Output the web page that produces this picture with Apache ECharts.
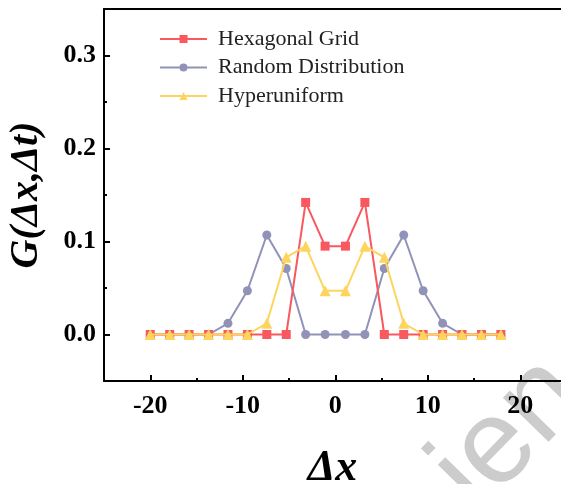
<!DOCTYPE html>
<html>
<head>
<meta charset="utf-8">
<script src="https://cdn.jsdelivr.net/npm/echarts@6/dist/echarts.min.js"></script>
<style>html,body{margin:0;padding:0;background:#fff}#c{width:561px;height:484px}</style>
</head>
<body>
<div id="c"></div>
<script>
const xValues = [-20, -17.9, -15.8, -13.7, -11.6, -9.5, -7.4, -5.3, -3.2, -1.1, 1.1, 3.2, 5.3, 7.4, 9.5, 11.6, 13.7, 15.8, 17.9];
const hexagonal = [0, 0, 0, 0, 0, 0, 0, 0, 0.142, 0.095, 0.095, 0.142, 0, 0, 0, 0, 0, 0, 0];
const randomDist = [0, 0, 0, 0, 0.012, 0.047, 0.107, 0.071, 0, 0, 0, 0, 0.071, 0.107, 0.047, 0.012, 0, 0, 0];
const hyperuniform = [0, 0, 0, 0, 0, 0, 0.012, 0.083, 0.095, 0.047, 0.047, 0.095, 0.083, 0.012, 0, 0, 0, 0, 0];
const xMajorTicks = [-20, -10, 0, 10, 20];
const xMinorTicks = [-15, -5, 5, 15];
const yMajorTicks = [0, 0.1, 0.2, 0.3];
const yMinorTicks = [0.05, 0.15, 0.25];
const seriesNames = ['Hexagonal Grid', 'Random Distribution', 'Hyperuniform'];

const pair = (ys) => xValues.map((x, i) => [x, ys[i]]);
const FONT = 'Liberation Serif';
const X_MIN = -25, X_MAX = 24.4, Y_MIN = -0.05, Y_MAX = 0.35;
const chart = echarts.init(document.getElementById('c'));
chart.setOption({
  animation: false,
  backgroundColor: '#fff',
  grid: { left: 104, top: 9, right: 0, bottom: 103, outerBoundsMode: 'none', containLabel: false },
  graphic: {
    elements: [{
      type: 'text', x: 411, y: 450, rotation: 0.8, z: -10, silent: true,
      style: { text: 'ien', font: 'normal 120px "Liberation Sans"', fill: '#cccccc' }
    }]
  },
  legend: {
    data: seriesNames, orient: 'vertical', left: 159, top: 28, padding: 0,
    itemWidth: 47, itemHeight: 10, itemGap: 6.5,
    textStyle: { fontFamily: FONT, fontSize: 22, color: '#222', padding: [0, 0, 0, 6] }
  },
  xAxis: [{
    type: 'value', min: X_MIN, max: X_MAX, position: 'bottom', z: 5,
    axisLine: { show: true, onZero: false, lineStyle: { color: '#000', width: 2 } },
    axisTick: { show: true, inside: true, length: 6, lineStyle: { color: '#000', width: 2 }, customValues: xMajorTicks },
    axisLabel: { customValues: xMajorTicks, margin: 12, fontFamily: FONT, fontWeight: 'bold', fontSize: 26, color: '#000' },
    splitLine: { show: false },
    name: 'Δx', nameLocation: 'middle', nameGap: 66,
    nameTextStyle: { fontFamily: FONT, fontWeight: 'bold', fontStyle: 'italic', fontSize: 44, color: '#000' }
  }, {
    type: 'value', min: X_MIN, max: X_MAX, position: 'bottom', gridIndex: 0,
    axisLine: { show: false, onZero: false },
    axisTick: { show: true, inside: true, length: 3, lineStyle: { color: '#000', width: 2 }, customValues: xMinorTicks },
    axisLabel: { show: false }, splitLine: { show: false }
  }, {
    type: 'value', min: X_MIN, max: X_MAX, position: 'top', gridIndex: 0,
    axisLine: { show: true, onZero: false, lineStyle: { color: '#000', width: 2 } },
    axisTick: { show: false }, axisLabel: { show: false }, splitLine: { show: false }
  }],
  yAxis: [{
    type: 'value', min: Y_MIN, max: Y_MAX, position: 'left',
    axisLine: { show: true, onZero: false, lineStyle: { color: '#000', width: 2 } },
    axisTick: { show: true, inside: true, length: 6, lineStyle: { color: '#000', width: 2 }, customValues: yMajorTicks },
    axisLabel: { customValues: yMajorTicks, margin: 8, formatter: v => v.toFixed(1), fontFamily: FONT, fontWeight: 'bold', fontSize: 26, color: '#000' },
    splitLine: { show: false },
    name: 'G(Δx,Δt)', nameLocation: 'middle', nameGap: 57, nameRotate: 90,
    nameTextStyle: { fontFamily: FONT, fontWeight: 'bold', fontStyle: 'italic', fontSize: 40, color: '#000' }
  }, {
    type: 'value', min: Y_MIN, max: Y_MAX, position: 'left', gridIndex: 0,
    axisLine: { show: false, onZero: false },
    axisTick: { show: true, inside: true, length: 3, lineStyle: { color: '#000', width: 2 }, customValues: yMinorTicks },
    axisLabel: { show: false }, splitLine: { show: false }
  }],
  series: [
    { name: seriesNames[1], type: 'line', data: pair(randomDist), symbol: 'circle', symbolSize: 9,
      itemStyle: { color: '#9192b8' }, lineStyle: { width: 2, color: '#9192b8' }, z: 2 },
    { name: seriesNames[0], type: 'line', data: pair(hexagonal), symbol: 'rect', symbolSize: 9,
      itemStyle: { color: '#f8585e' }, lineStyle: { width: 2, color: '#f8585e' }, z: 3 },
    { name: seriesNames[2], type: 'line', data: pair(hyperuniform), symbol: 'triangle', symbolSize: 11,
      itemStyle: { color: '#fdd55c' }, lineStyle: { width: 2, color: '#fdd55c' }, z: 4 }
  ]
});
</script>
</body>
</html>
